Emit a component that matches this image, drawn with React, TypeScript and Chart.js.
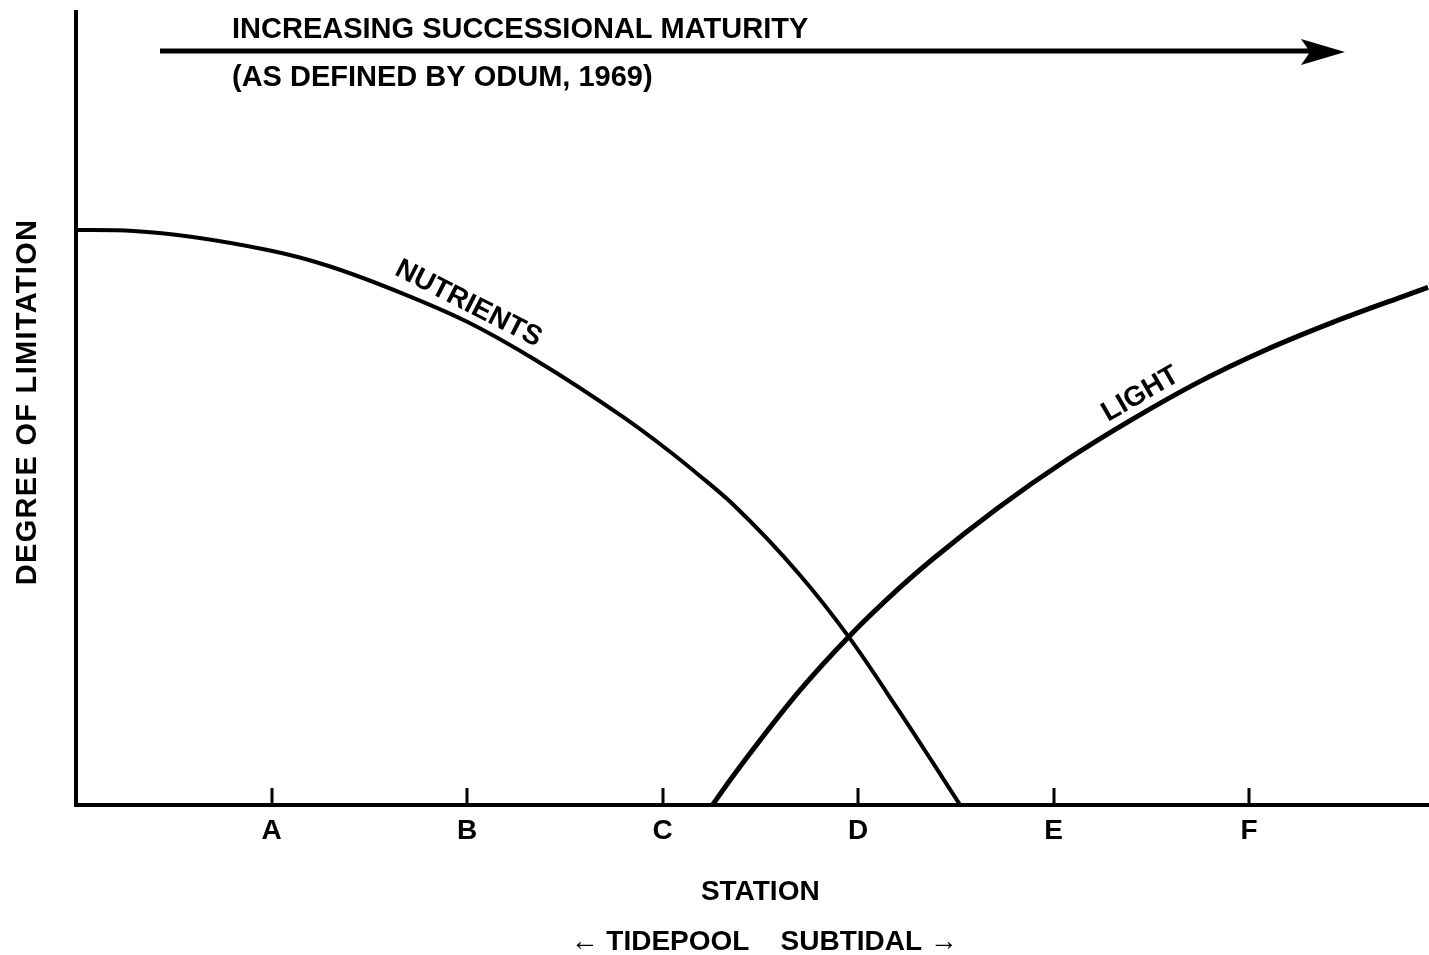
import React, { useEffect, useRef } from 'react';
import { Chart, registerables } from 'chart.js';

Chart.register(...registerables);

// ---- Data ----
const stations = ['A', 'B', 'C', 'D', 'E', 'F'];
const stationPositions = [1, 2, 3, 4, 5, 6];

const nutrientsX = [0, 0.294, 0.98, 1.276, 1.665, 2.003, 2.35, 2.805, 3.02, 3.188, 3.357, 3.699, 3.955, 4.21, 4.379, 4.522];
const nutrientsY = [72.51, 72.38, 69.99, 68.1, 64.56, 60.91, 56.12, 48.81, 44.89, 41.56, 37.98, 29.1, 21.1, 11.83, 5.46, 0];

const lightX = [3.255, 3.357, 3.699, 3.955, 4.21, 4.379, 4.72, 5.064, 5.402, 5.744, 6.087, 6.424, 6.767, 6.915];
const lightY = [0, 3.53, 14.35, 21.29, 27.34, 30.96, 37.55, 43.47, 48.63, 53.36, 57.41, 60.83, 63.96, 65.27];

const xMax = 6.92;
const yMax = 100;

const headerLines = ['INCREASING SUCCESSIONAL MATURITY', '(AS DEFINED BY ODUM, 1969)'];
const yTitle = 'DEGREE OF LIMITATION';
const xTitle = ['\u00A0\u00A0STATION', '\u00A0\u00A0\u00A0\u2190 TIDEPOOL    SUBTIDAL \u2192'];

const FONT = '"Liberation Sans", Arial, Helvetica, sans-serif';

const overlay = {
  id: 'overlay',
  afterDraw(chart: any) {
    const { ctx, chartArea, scales } = chart;
    const x = scales.x;
    const y = scales.y;
    ctx.save();
    ctx.strokeStyle = '#000';
    ctx.fillStyle = '#000';

    // inward tick marks
    ctx.lineWidth = 3;
    stationPositions.forEach((v) => {
      const px = Math.round(x.getPixelForValue(v));
      ctx.beginPath();
      ctx.moveTo(px, chartArea.bottom);
      ctx.lineTo(px, chartArea.bottom - 17);
      ctx.stroke();
    });

    // header text
    ctx.font = `bold 29px ${FONT}`;
    ctx.textAlign = 'left';
    ctx.textBaseline = 'alphabetic';
    ctx.fillText(headerLines[0], 232, 38);
    ctx.fillText(headerLines[1], 232, 86);

    // arrow
    ctx.lineWidth = 5;
    ctx.beginPath();
    ctx.moveTo(160, 51);
    ctx.lineTo(1312, 51);
    ctx.stroke();
    ctx.beginPath();
    ctx.moveTo(1345, 52);
    ctx.lineTo(1301, 39);
    ctx.lineTo(1310, 52);
    ctx.lineTo(1301, 65);
    ctx.closePath();
    ctx.fill();

    // y title
    ctx.save();
    ctx.translate(28, 402);
    ctx.rotate(-Math.PI / 2);
    ctx.textAlign = 'center';
    ctx.textBaseline = 'middle';
    ctx.font = `bold 29px ${FONT}`;
    try { (ctx as any).letterSpacing = '1.3px'; } catch (e) {}
    ctx.fillText(yTitle, 0, 0);
    try { (ctx as any).letterSpacing = '0px'; } catch (e) {}
    ctx.restore();

    // curve labels
    const label = (text: string, dx: number, dy: number, angleDeg: number) => {
      ctx.save();
      ctx.translate(x.getPixelForValue(dx), y.getPixelForValue(dy));
      ctx.rotate((angleDeg * Math.PI) / 180);
      ctx.textAlign = 'center';
      ctx.textBaseline = 'middle';
      ctx.font = `bold 28px ${FONT}`;
      ctx.fillText(text, 0, 0);
      ctx.restore();
    };
    label('NUTRIENTS', 2.007, 63.2, 27);
    label('LIGHT', 5.445, 51.8, -30);

    ctx.restore();
  },
};

export default function App() {
  const canvasRef = useRef<HTMLCanvasElement | null>(null);

  useEffect(() => {
    const canvas = canvasRef.current;
    if (!canvas) return;
    const chart = new Chart(canvas, {
      type: 'line',
      data: {
        datasets: [
          {
            label: 'NUTRIENTS',
            data: nutrientsX.map((v, i) => ({ x: v, y: nutrientsY[i] })),
            borderColor: '#000',
            borderWidth: 4,
            pointRadius: 0,
            fill: false,
            cubicInterpolationMode: 'monotone',
          },
          {
            label: 'LIGHT',
            data: lightX.map((v, i) => ({ x: v, y: lightY[i] })),
            borderColor: '#000',
            borderWidth: 5,
            pointRadius: 0,
            fill: false,
            cubicInterpolationMode: 'monotone',
          },
        ],
      },
      options: {
        animation: false,
        responsive: false,
        devicePixelRatio: 1,
        layout: { padding: { top: 12, right: 0, left: 0, bottom: 0 } },
        plugins: {
          legend: { display: false },
          tooltip: { enabled: false },
          title: { display: false },
        },
        scales: {
          x: {
            type: 'linear',
            min: 0,
            max: xMax,
            grid: { display: false },
            border: { display: true, color: '#000', width: 4 },
            afterBuildTicks: (s: any) => {
              s.ticks = stationPositions.map((v) => ({ value: v }));
            },
            afterFit: (s: any) => {
              s.height = 150;
            },
            ticks: {
              color: '#000',
              autoSkip: false,
              maxRotation: 0,
              padding: 1,
              font: { family: FONT, size: 28, weight: 'bold' },
              callback: (v: any) => {
                const i = stationPositions.indexOf(Number(v));
                return i >= 0 ? stations[i] : '';
              },
            },
            title: {
              display: true,
              text: xTitle,
              color: '#000',
              font: { family: FONT, size: 28, weight: 'bold', lineHeight: '50px' },
              padding: { top: 0, bottom: -12 },
            },
          },
          y: {
            type: 'linear',
            min: 0,
            max: yMax,
            grid: { display: false },
            border: { display: true, color: '#000', width: 4 },
            ticks: { display: false },
            afterFit: (s: any) => {
              s.width = 76;
            },
          },
        },
      } as any,
      plugins: [overlay],
    });
    return () => chart.destroy();
  }, []);

  return (
    <div style={{ position: 'absolute', left: 0, top: 0, width: 1429, height: 955, background: '#fff' }}>
      <canvas ref={canvasRef} width={1429} height={955} style={{ display: 'block' }} />
    </div>
  );
}
